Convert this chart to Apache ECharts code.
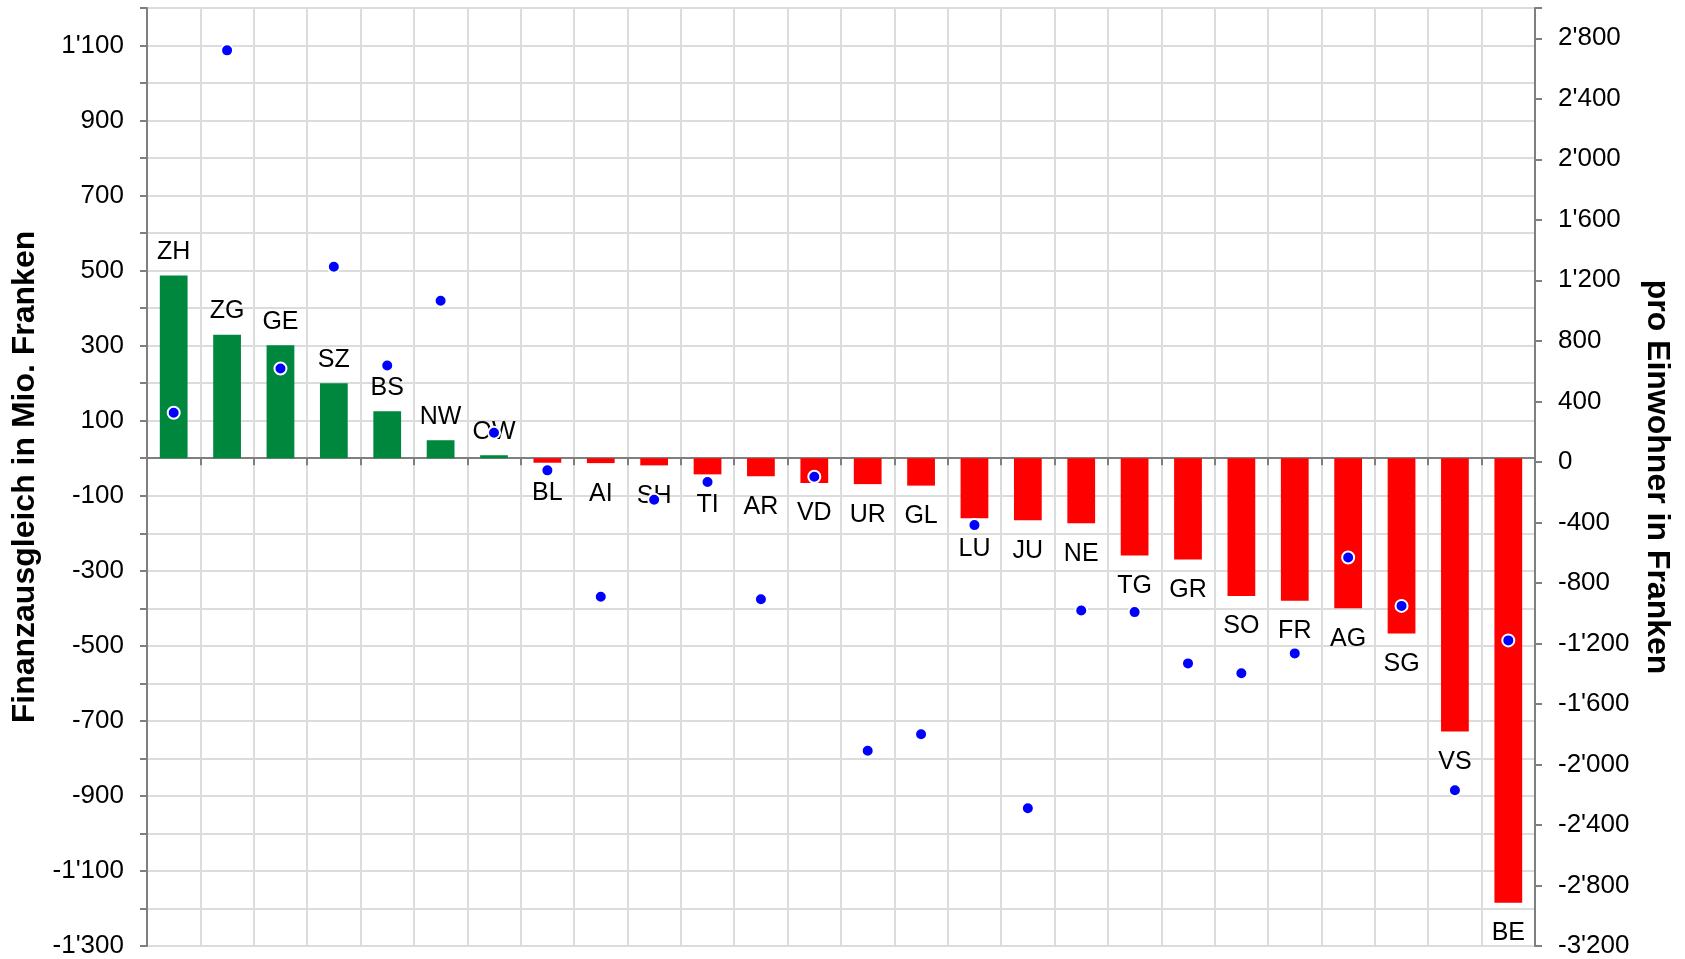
<!DOCTYPE html>
<html>
<head>
<meta charset="utf-8">
<title>Finanzausgleich</title>
<script src="https://cdn.jsdelivr.net/npm/echarts@6/dist/echarts.min.js"></script>
<style>
  html, body { margin: 0; padding: 0; background: #fff; }
  #chart { width: 1685px; height: 959px; }
</style>
</head>
<body>
<div id="chart"></div>
<script>
// Kantone, sortiert nach Finanzausgleich
var kantone = ['ZH','ZG','GE','SZ','BS','NW','OW','BL','AI','SH','TI','AR','VD','UR','GL','LU','JU','NE','TG','GR','SO','FR','AG','SG','VS','BE'];
// Finanzausgleich in Mio. Franken (linke Achse)
var mioFranken = [487, 329, 301, 200, 125, 48, 8, -12, -13, -19, -43, -48, -66, -69, -73, -160, -165, -173, -259, -270, -367, -380, -400, -467, -728, -1185];
// pro Einwohner in Franken (rechte Achse)
var proEinwohner = [325, 2720, 617, 1290, 637, 1065, 193, -56, -892, -250, -133, -908, -98, -1910, -1800, -418, -2289, -983, -993, -1332, -1397, -1266, -632, -952, -2170, -1180];

var fontName = '"Liberation Sans", Arial, sans-serif';
var achseGrau = '#7f7f7f';
var gitterGrau = '#dcdcdc';

function tausender(v) {
    var s = Math.abs(v).toString().replace(/\B(?=(\d{3})+(?!\d))/g, "'");
    return (v < 0 ? '-' : '') + s;
}

var barData = mioFranken.map(function (v) {
    var pos = v >= 0;
    return {
        value: v,
        itemStyle: { color: pos ? '#00873e' : '#ff0000' },
        label: { position: pos ? 'top' : 'bottom', distance: pos ? 11 : 18 }
    };
});

var chart = echarts.init(document.getElementById('chart'));
chart.setOption({
    animation: false,
    textStyle: { fontFamily: fontName },
    grid: { left: 147, right: 150, top: 8, bottom: 12 },
    xAxis: {
        type: 'category',
        data: kantone,
        axisLine: { onZero: true, lineStyle: { color: achseGrau, width: 2 } },
        axisTick: { show: true, length: 7, lineStyle: { color: achseGrau, width: 2 } },
        axisLabel: { show: false },
        splitLine: { show: true, lineStyle: { color: gitterGrau, width: 2 } }
    },
    yAxis: [
        {
            type: 'value',
            min: -1300,
            max: 1200,
            interval: 100,
            name: 'Finanzausgleich in Mio. Franken',
            nameLocation: 'middle',
            nameGap: 102,
            nameTextStyle: { fontSize: 32, fontWeight: 'bold', color: '#000', fontFamily: fontName },
            axisLine: { show: true, lineStyle: { color: achseGrau, width: 2 } },
            axisTick: { show: true, length: 7, lineStyle: { color: achseGrau, width: 2 } },
            axisLabel: {
                margin: 23,
                fontSize: 26,
                color: '#000',
                fontFamily: fontName,
                formatter: function (v) {
                    return Math.abs(Math.round(v / 100)) % 2 === 1 ? tausender(v) : '';
                }
            },
            splitLine: { show: true, lineStyle: { color: gitterGrau, width: 2 } }
        },
        {
            type: 'value',
            min: -3200,
            max: 3000,
            interval: 400,
            name: 'pro Einwohner in Franken',
            nameLocation: 'middle',
            nameRotate: -90,
            nameGap: 102,
            nameTextStyle: { fontSize: 32, fontWeight: 'bold', color: '#000', fontFamily: fontName },
            axisLine: { show: true, lineStyle: { color: achseGrau, width: 2 } },
            axisTick: { show: true, length: 7, lineStyle: { color: achseGrau, width: 2 } },
            axisLabel: {
                margin: 23,
                fontSize: 26,
                color: '#000',
                fontFamily: fontName,
                formatter: function (v) {
                    return v % 400 === 0 ? tausender(v) : '';
                }
            },
            splitLine: { show: false }
        }
    ],
    series: [
        {
            name: 'Mio. Franken',
            type: 'bar',
            yAxisIndex: 0,
            barWidth: '52%',
            data: barData,
            label: {
                show: true,
                formatter: '{b}',
                fontSize: 25,
                color: '#000',
                fontFamily: fontName
            }
        },
        {
            name: 'pro Einwohner',
            type: 'scatter',
            yAxisIndex: 1,
            symbol: 'circle',
            symbolSize: 12,
            itemStyle: { color: '#0000ff', borderColor: '#fff', borderWidth: 2, opacity: 1 },
            data: proEinwohner,
            z: 5
        }
    ]
});
</script>
</body>
</html>
